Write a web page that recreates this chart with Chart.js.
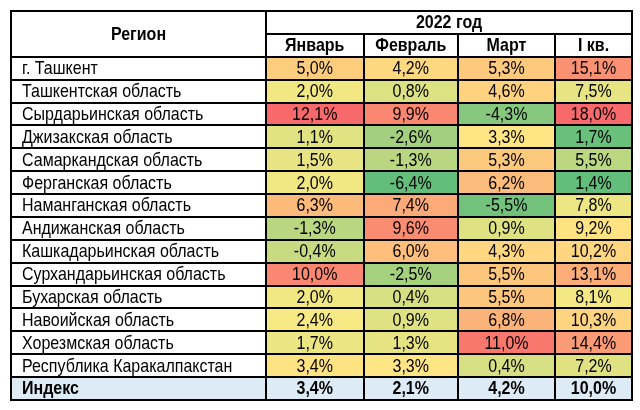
<!DOCTYPE html>
<html>
<head>
<meta charset="utf-8">
<script src="https://cdn.jsdelivr.net/npm/chart.js@4"></script>
<style>
  body { margin: 0; background: #fff; }
</style>
</head>
<body>
<canvas id="table-chart" width="640" height="410"></canvas>
<script>
const regions = [
  'г. Ташкент', 'Ташкентская область', 'Сырдарьинская область', 'Джизакская область',
  'Самаркандская область', 'Ферганская область', 'Наманганская область', 'Андижанская область',
  'Кашкадарьинская область', 'Сурхандарьинская область', 'Бухарская область',
  'Навоийская область', 'Хорезмская область', 'Республика Каракалпакстан'
];
const columns = ['Январь', 'Февраль', 'Март', 'I кв.'];
const jan = [5.0, 2.0, 12.1, 1.1, 1.5, 2.0, 6.3, -1.3, -0.4, 10.0, 2.0, 2.4, 1.7, 3.4];
const feb = [4.2, 0.8, 9.9, -2.6, -1.3, -6.4, 7.4, 9.6, 6.0, -2.5, 0.4, 0.9, 1.3, 3.3];
const mar = [5.3, 4.6, -4.3, 3.3, 5.3, 6.2, -5.5, 0.9, 4.3, 5.5, 5.5, 6.8, 11.0, 0.4];
const q1 = [15.1, 7.5, 18.0, 1.7, 5.5, 1.4, 7.8, 9.2, 10.2, 13.1, 8.1, 10.3, 14.4, 7.2];
const indexLabel = 'Индекс';
const indexValues = [3.4, 2.1, 4.2, 10.0];
const regionHeader = 'Регион';
const yearHeader = '2022 год';

// layout (column widths in px)
const colWidths = [255, 97.5, 94.5, 97, 77];
const colEdges = colWidths.reduce((acc, w) => { acc.push(acc[acc.length - 1] + w); return acc; }, [0]);
const series = [jan, feb, mar, q1];

// excel-like 3 color scale: min green, median yellow, max red
const GREEN = [99, 190, 123], YELLOW = [255, 235, 132], RED = [248, 105, 107];
function median(arr) {
  const s = [...arr].sort((a, b) => a - b);
  const m = s.length / 2;
  return s.length % 2 ? s[Math.floor(m)] : (s[m - 1] + s[m]) / 2;
}
function mix(a, b, t) {
  return 'rgb(' + a.map((c, i) => Math.round(c + (b[i] - c) * t)).join(',') + ')';
}
function makeScale(vals) {
  const lo = Math.min(...vals), hi = Math.max(...vals), mid = median(vals);
  return v => v <= mid ? mix(GREEN, YELLOW, (v - lo) / (mid - lo)) : mix(YELLOW, RED, (v - mid) / (hi - mid));
}
const monthScale = makeScale([...jan, ...feb, ...mar]);
const q1Scale = makeScale(q1);
const scales = [monthScale, monthScale, monthScale, q1Scale];

// rows: 2 header rows, regions, index row
const rowKeys = ['h1', 'h2', ...regions.map((r, i) => 'r' + i), 'idx'];
const fmt = v => v.toFixed(1).replace('.', ',') + '%';

const datasets = series.map((vals, c) => {
  const x0 = colEdges[c + 1], x1 = colEdges[c + 2];
  return {
    label: columns[c],
    data: [null, null, ...vals.map(() => [x0, x1]), [x0, x1]],
    backgroundColor: [null, null, ...vals.map(v => scales[c](v)), '#DDEBF7'],
    borderWidth: 0,
    grouped: false,
    barPercentage: 1,
    categoryPercentage: 1
  };
});
datasets.push({
  label: indexLabel,
  data: rowKeys.map((k, i) => i === rowKeys.length - 1 ? [colEdges[0], colEdges[1]] : null),
  backgroundColor: '#DDEBF7',
  borderWidth: 0,
  grouped: false,
  barPercentage: 1,
  categoryPercentage: 1
});

const FONT = '16px "Liberation Sans", Arial, sans-serif';
const BOLD = 'bold ' + FONT;

// text in the reference is a bit stretched vertically
function txt(ctx, s, x, y) {
  ctx.save();
  ctx.translate(x, y);
  ctx.scale(1, 1.12);
  ctx.fillText(s, 0, 0);
  ctx.restore();
}

const tablePlugin = {
  id: 'tableText',
  afterDatasetsDraw(chart) {
    const ctx = chart.ctx;
    const xs = chart.scales.x, ys = chart.scales.y;
    const rowH = ys.getPixelForValue(1) - ys.getPixelForValue(0);
    const top = i => ys.getPixelForValue(i) - rowH / 2;
    const X = v => xs.getPixelForValue(v);
    const n = rowKeys.length;

    ctx.save();
    ctx.strokeStyle = '#000';
    ctx.lineWidth = 2;
    ctx.beginPath();
    // horizontal lines
    for (let i = 0; i <= n; i++) {
      const y = Math.round(top(i));
      const xStart = i === 1 ? X(colEdges[1]) : X(colEdges[0]);
      ctx.moveTo(xStart - 1, y);
      ctx.lineTo(X(colEdges[colEdges.length - 1]) + 1, y);
    }
    // vertical lines
    colEdges.forEach((e, k) => {
      const x = Math.round(X(e));
      const yStart = (k >= 2 && k < colEdges.length - 1) ? top(1) : top(0);
      ctx.moveTo(x, yStart);
      ctx.lineTo(x, top(n));
    });
    ctx.stroke();

    ctx.fillStyle = '#000';
    ctx.textBaseline = 'middle';
    // headers
    ctx.font = BOLD;
    ctx.textAlign = 'center';
    txt(ctx, regionHeader, (X(colEdges[0]) + X(colEdges[1])) / 2, top(1) + 1);
    txt(ctx, yearHeader, (X(colEdges[1]) + X(colEdges[colEdges.length - 1])) / 2, ys.getPixelForValue(0) + 1);
    columns.forEach((c, k) => {
      txt(ctx, c, (X(colEdges[k + 1]) + X(colEdges[k + 2])) / 2, ys.getPixelForValue(1) + 1);
    });
    // body rows
    regions.forEach((r, i) => {
      const y = ys.getPixelForValue(i + 2) + 1;
      ctx.font = FONT;
      ctx.textAlign = 'left';
      txt(ctx, r, X(colEdges[0]) + 11, y);
      ctx.textAlign = 'center';
      series.forEach((vals, c) => {
        txt(ctx, fmt(vals[i]), (X(colEdges[c + 1]) + X(colEdges[c + 2])) / 2, y);
      });
    });
    // index row
    const yi = ys.getPixelForValue(n - 1) + 1;
    ctx.font = BOLD;
    ctx.textAlign = 'left';
    txt(ctx, indexLabel, X(colEdges[0]) + 11, yi);
    ctx.textAlign = 'center';
    indexValues.forEach((v, c) => {
      txt(ctx, fmt(v), (X(colEdges[c + 1]) + X(colEdges[c + 2])) / 2, yi);
    });
    ctx.restore();
  }
};

new Chart(document.getElementById('table-chart'), {
  type: 'bar',
  data: { labels: rowKeys, datasets },
  options: {
    indexAxis: 'y',
    responsive: false,
    animation: false,
    devicePixelRatio: 1,
    layout: { padding: { left: 11, right: 8, top: 11, bottom: 10 } },
    scales: {
      x: { type: 'linear', min: 0, max: colEdges[colEdges.length - 1], display: false },
      y: { display: false }
    },
    plugins: { legend: { display: false }, tooltip: { enabled: false } }
  },
  plugins: [tablePlugin]
});
</script>
</body>
</html>
